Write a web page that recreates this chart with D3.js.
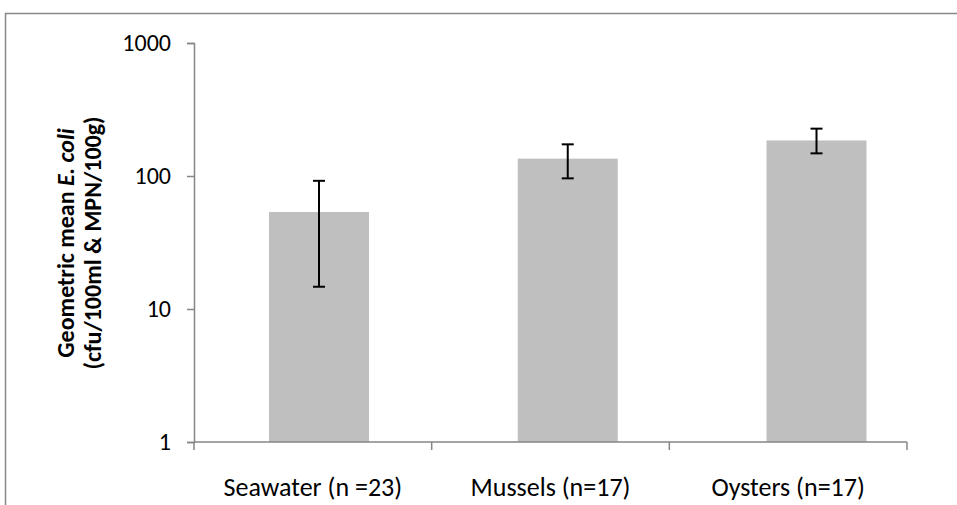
<!DOCTYPE html>
<html>
<head>
<meta charset="utf-8">
<script src="https://cdn.jsdelivr.net/npm/d3@7"></script>
<style>
  body { margin: 0; background: #fff; }
  svg { display: block; font-family: Calibri, Carlito, Lato, sans-serif; }
</style>
</head>
<body>
<svg id="chart" width="957" height="505"></svg>
<script>
// data
const categories = ["Seawater (n =23)", "Mussels (n=17)", "Oysters (n=17)"];
const geoMean = [53.6, 135, 185];
const errLow = [14.7, 96, 148];
const errHigh = [92, 173, 227];
const yTicks = [1, 10, 100, 1000];

const svg = d3.select("#chart");

// outer chart frame (only top and left edges show)
svg.append("path")
    .attr("d", "M5.5,505 V13.5 H957")
    .attr("fill", "none")
    .attr("stroke", "#888")
    .attr("stroke-width", 1.5);

// scales
const y = d3.scaleLog()
    .domain([1, 1000])
    .range([442, 43]);

const xAxisScale = d3.scaleBand()
    .domain(categories)
    .range([194, 907]);

const xBar = d3.scalePoint()
    .domain(categories)
    .range([319, 816.5]);

const barWidth = 100;

// bars
svg.append("g")
    .selectAll("rect")
    .data(categories)
    .join("rect")
    .attr("x", d => xBar(d) - barWidth / 2)
    .attr("y", (d, i) => y(geoMean[i]))
    .attr("width", barWidth)
    .attr("height", (d, i) => y(1) - y(geoMean[i]))
    .attr("fill", "#bfbfbf");

// error bars
const err = svg.append("g")
    .attr("stroke", "#000")
    .attr("stroke-width", 2);

categories.forEach((c, i) => {
    const cx = xBar(c);
    err.append("line")
        .attr("x1", cx).attr("x2", cx)
        .attr("y1", y(errHigh[i])).attr("y2", y(errLow[i]));
    [errHigh[i], errLow[i]].forEach(v => {
        err.append("line")
            .attr("x1", cx - 6).attr("x2", cx + 6)
            .attr("y1", y(v)).attr("y2", y(v));
    });
});

// y axis
const yAxis = svg.append("g")
    .attr("transform", "translate(194,0)")
    .call(d3.axisLeft(y).tickValues(yTicks).tickFormat(d3.format("d")).tickSize(7).tickPadding(16));
yAxis.select(".domain").attr("stroke", "#868686").attr("stroke-width", 1.5);
yAxis.selectAll(".tick line").attr("stroke", "#868686").attr("stroke-width", 1.5);
yAxis.selectAll(".tick text")
    .attr("fill", "#000")
    .style("font-size", "24px")
    .style("font-family", "Calibri, Carlito, Lato, sans-serif");

// x axis: line with ticks between categories
const xg = svg.append("g");
xg.append("line")
    .attr("x1", xAxisScale.range()[0]).attr("x2", xAxisScale.range()[1])
    .attr("y1", y(1)).attr("y2", y(1))
    .attr("stroke", "#868686").attr("stroke-width", 1.5);

const bounds = categories.map(c => xAxisScale(c)).concat([xAxisScale.range()[1]]);
xg.selectAll(".xt")
    .data(bounds)
    .join("line")
    .attr("x1", d => d).attr("x2", d => d)
    .attr("y1", y(1)).attr("y2", y(1) + 8)
    .attr("stroke", "#868686").attr("stroke-width", 1.5);

xg.selectAll("text")
    .data(categories)
    .join("text")
    .attr("x", d => xAxisScale(d) + xAxisScale.bandwidth() / 2)
    .attr("y", y(1) + 54)
    .attr("text-anchor", "middle")
    .style("font-size", "26px")
    .text(d => d);

// y axis title
const title = svg.append("text")
    .attr("transform", "translate(0,243) rotate(-90)")
    .attr("text-anchor", "middle")
    .style("font-size", "24px")
    .style("font-weight", "bold");
const l1 = title.append("tspan").attr("x", 0).attr("y", 74);
l1.append("tspan").text("Geometric mean ");
l1.append("tspan").style("font-style", "italic").text("E. coli");
title.append("tspan").attr("x", 0).attr("y", 101).text("(cfu/100ml & MPN/100g)");
</script>
</body>
</html>
